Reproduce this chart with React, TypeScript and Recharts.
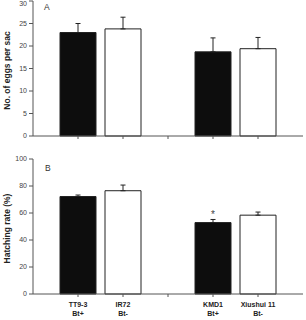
import { Bar, BarChart, Cell, ErrorBar, LabelList, XAxis, YAxis } from "recharts";

// cultivars, with the empty slot that splits the two pairs
const cultivars = ["TT9-3", "IR72", "", "KMD1", "Xiushui 11"];
const btStatus = ["Bt+", "Bt-", "", "Bt+", "Bt-"];
const barFills = ["#0d0d0d", "#ffffff", "#ffffff", "#0d0d0d", "#ffffff"];

// panel A: eggs per sac (mean, upper SE)
const eggsMean = [23.0, 23.8, null, 18.7, 19.4];
const eggsErr = [2.0, 2.6, null, 3.1, 2.5];
const eggTicks = [0, 5, 10, 15, 20, 25, 30];

// panel B: hatching rate in % (mean, upper SE)
const hatchMean = [72.2, 76.5, null, 52.9, 58.4];
const hatchErr = [1.1, 4.2, null, 2.3, 2.3];
const hatchTicks = [0, 20, 40, 60, 80, 100];
const signif = ["", "", "", "*", ""];

const eggRows = cultivars.map((cultivar, i) => ({
  cultivar,
  value: eggsMean[i],
  err: eggsErr[i] == null ? null : [0, eggsErr[i]],
}));

const hatchRows = cultivars.map((cultivar, i) => ({
  cultivar,
  value: hatchMean[i],
  err: hatchErr[i] == null ? null : [0, hatchErr[i]],
  mark: signif[i],
}));

const axisColor = "#555";
const font = "'Liberation Sans', Arial, sans-serif";
const tickStyle = { fontSize: 7, fill: "#444", fontFamily: font };

function SideTitle({ viewBox, value }: any) {
  const cx = 7;
  const cy = viewBox.y + viewBox.height / 2 + 2;
  return (
    <text
      x={cx}
      y={cy}
      transform={`rotate(-90 ${cx} ${cy})`}
      textAnchor="middle"
      dominantBaseline="central"
      fontFamily={font}
      fontWeight="bold"
      fontSize={8.5}
      fill="#222"
    >
      {value}
    </text>
  );
}

function CultivarTick({ x, y, payload, index }: any) {
  return (
    <text x={x} y={y} textAnchor="middle" fontFamily={font} fontWeight="bold" fontSize={7} fill="#222">
      <tspan x={x} dy={8}>
        {payload.value}
      </tspan>
      <tspan x={x} dy={8.5}>
        {btStatus[index]}
      </tspan>
    </text>
  );
}

function PanelLetter({ left, top, children }: { left: number; top: number; children: string }) {
  return (
    <span
      style={{
        position: "absolute",
        left,
        top,
        fontFamily: font,
        fontSize: 8.5,
        lineHeight: 1,
        color: "#333",
      }}
    >
      {children}
    </span>
  );
}

export default function App() {
  return (
    <div style={{ position: "absolute", left: 0, top: 0, width: 306, height: 320, background: "#fff" }}>
      <BarChart
        width={306}
        height={150}
        data={eggRows}
        margin={{ top: 1, right: 3, bottom: 0, left: 0 }}
        barCategoryGap="10%"
      >
        <XAxis
          dataKey="cultivar"
          height={14}
          interval={0}
          padding={{ left: 22.5, right: 22.5 }}
          stroke={axisColor}
          tickSize={3}
          tickFormatter={() => ""}
        />
        <YAxis
          width={33}
          domain={[0, 30]}
          ticks={eggTicks}
          stroke={axisColor}
          tickSize={4}
          tickMargin={2}
          tick={tickStyle}
          label={<SideTitle value="No. of eggs per sac" />}
        />
        <Bar dataKey="value" stroke="#222" strokeWidth={1} isAnimationActive={false}>
          {eggRows.map((row, i) => (
            <Cell key={i} fill={barFills[i]} />
          ))}
          <ErrorBar dataKey="err" direction="y" width={2.5} stroke="#222" strokeWidth={1} isAnimationActive={false} />
        </Bar>
      </BarChart>
      <PanelLetter left={44} top={3}>
        A
      </PanelLetter>

      <div style={{ position: "absolute", left: 0, top: 150 }}>
        <BarChart
          width={306}
          height={170}
          data={hatchRows}
          margin={{ top: 9, right: 3, bottom: 0, left: 0 }}
          barCategoryGap="10%"
        >
          <XAxis
            dataKey="cultivar"
            height={26}
            interval={0}
            padding={{ left: 22.5, right: 22.5 }}
            stroke={axisColor}
            tickSize={3}
            tickMargin={2}
            tick={<CultivarTick />}
          />
          <YAxis
            width={33}
            domain={[0, 100]}
            ticks={hatchTicks}
            stroke={axisColor}
            tickSize={4}
            tickMargin={2}
            tick={tickStyle}
            label={<SideTitle value="Hatching rate (%)" />}
          />
          <Bar dataKey="value" stroke="#222" strokeWidth={1} isAnimationActive={false}>
            {hatchRows.map((row, i) => (
              <Cell key={i} fill={barFills[i]} />
            ))}
            <ErrorBar dataKey="err" direction="y" width={2.5} stroke="#222" strokeWidth={1} isAnimationActive={false} />
            <LabelList dataKey="mark" position="top" offset={5} fontSize={10} fill="#444" fontFamily={font} />
          </Bar>
        </BarChart>
        <PanelLetter left={45} top={14}>
          B
        </PanelLetter>
      </div>
    </div>
  );
}
